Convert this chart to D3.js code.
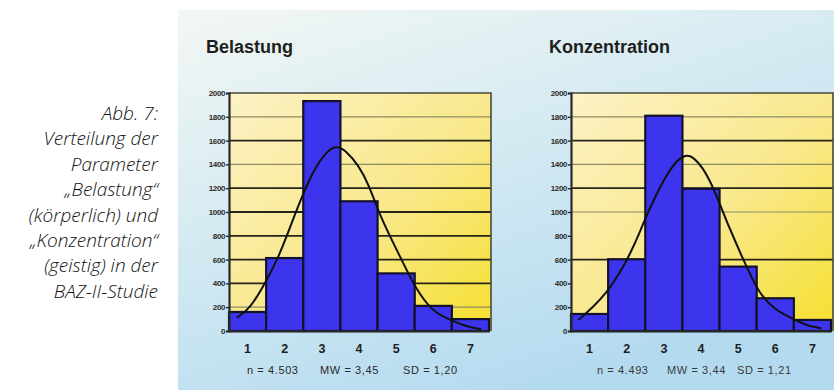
<!DOCTYPE html>
<html>
<head>
<meta charset="utf-8">
<script src="https://cdn.jsdelivr.net/npm/d3@7"></script>
<style>
  html, body { margin: 0; padding: 0; background: #fff; }
  svg { display: block; }
</style>
</head>
<body>
<svg id="chart" width="834" height="390"></svg>
<script>
// Histogram categories (rating scale 1..7)
const categories = ["1", "2", "3", "4", "5", "6", "7"];

// Frequencies per rating
const belastungValues = [160, 613, 1932, 1090, 484, 211, 100];
const konzentrationValues = [143, 603, 1809, 1195, 541, 275, 93];

// Fitted normal curves, sampled along the rating axis
const belastungCurveX = [0.71, 1.06, 1.51, 1.86, 2.13, 2.40, 2.75, 3.11, 3.38, 3.64, 3.99, 4.27, 4.49, 4.80, 5.16, 5.51, 5.96, 6.40, 6.85, 7.29];
const belastungCurveY = [112, 183, 422, 640, 860, 1080, 1340, 1505, 1561, 1519, 1392, 1224, 1030, 816, 591, 365, 169, 99, 42, 14];
const konzentrationCurveX = [0.70, 1.10, 1.45, 1.81, 2.08, 2.34, 2.52, 2.74, 2.97, 3.32, 3.59, 3.77, 4.03, 4.30, 4.57, 4.75, 5.10, 5.55, 5.99, 6.44, 6.80, 7.24];
const konzentrationCurveY = [93, 204, 317, 485, 640, 822, 960, 1110, 1256, 1430, 1481, 1467, 1382, 1228, 1018, 878, 625, 317, 177, 107, 50, 23];

// Value axis
const yTicks = [0, 200, 400, 600, 800, 1000, 1200, 1400, 1600, 1800, 2000];
const yMax = 2000;

// Horizontal rules drawn in each panel
const belastungGridDark = [1600, 1200, 1000, 800, 600, 400];
const belastungGridLight = [1800, 1400, 200];
const konzentrationGridDark = [1600, 1200, 600];
const konzentrationGridLight = [1800, 1400, 1000];

// Titles and summary statistics
const titles = ["Belastung", "Konzentration"];
const belastungStats = ["n = 4.503", "MW = 3,45", "SD = 1,20"];
const konzentrationStats = ["n = 4.493", "MW = 3,44", "SD = 1,21"];

// Figure caption
const captionLines = ["Abb. 7:", "Verteilung der", "Parameter", "\u201EBelastung\u201C", "(körperlich) und", "\u201EKonzentration\u201C", "(geistig) in der", "BAZ-II-Studie"];

const svg = d3.select("#chart");
const defs = svg.append("defs");

// Light blue backdrop gradient
const bg = defs.append("linearGradient").attr("id", "bgGrad")
  .attr("x1", "0").attr("y1", "0").attr("x2", "0.55").attr("y2", "1");
bg.append("stop").attr("offset", "0").attr("stop-color", "#f3f7f4");
bg.append("stop").attr("offset", "0.45").attr("stop-color", "#d6ebf2");
bg.append("stop").attr("offset", "1").attr("stop-color", "#b4daf0");

// Yellow plot area gradient
const pg = defs.append("linearGradient").attr("id", "plotGrad")
  .attr("x1", "0").attr("y1", "0").attr("x2", "1").attr("y2", "1");
pg.append("stop").attr("offset", "0").attr("stop-color", "#fcf2c6");
pg.append("stop").attr("offset", "0.55").attr("stop-color", "#f9e88a");
pg.append("stop").attr("offset", "1").attr("stop-color", "#f5df2e");

svg.append("rect").attr("x", 178).attr("y", 10).attr("width", 656).attr("height", 380)
  .attr("fill", "url(#bgGrad)");

// Caption on the left
const cap = svg.append("text")
  .attr("text-anchor", "end")
  .attr("font-family", "'Open Sans', 'DejaVu Sans', sans-serif")
  .attr("font-style", "italic")
  .attr("font-weight", 300)
  .attr("font-size", 19)
  .attr("fill", "#111");
captionLines.forEach((line, i) => {
  cap.append("tspan").attr("x", 158).attr("y", 120 + i * 25.4).text(line);
});

function drawPanel(opts) {
  const { left, right, title, titleX, values, curveX, curveY, gridDark, gridLight, stats, statsX, statsColor } = opts;
  const top = 93, bottom = 331;
  const g = svg.append("g");

  const x = d3.scaleBand().domain(categories).range([left, right]).padding(0);
  const xc = d3.scaleLinear().domain([0.5, categories.length + 0.5]).range([left, right]);
  const y = d3.scaleLinear().domain([0, yMax]).range([bottom, top]);

  // Title
  g.append("text").attr("x", titleX).attr("y", 53)
    .attr("font-family", "Arial, 'Liberation Sans', sans-serif")
    .attr("font-weight", "bold").attr("font-size", 18).attr("fill", "#1e1e1e")
    .text(title);

  // Plot area
  g.append("rect").attr("x", left).attr("y", top)
    .attr("width", right - left + 2).attr("height", bottom - top)
    .attr("fill", "url(#plotGrad)");

  // Rules
  g.selectAll(".gl").data(gridLight).join("line")
    .attr("x1", left).attr("x2", right + 2)
    .attr("y1", d => y(d)).attr("y2", d => y(d))
    .attr("stroke", "#8d8c62").attr("stroke-width", 1.2);
  g.selectAll(".gd").data(gridDark).join("line")
    .attr("x1", left).attr("x2", right + 2)
    .attr("y1", d => y(d)).attr("y2", d => y(d))
    .attr("stroke", "#262418").attr("stroke-width", 1.8);

  // Bars
  g.selectAll(".bar").data(values).join("rect")
    .attr("x", (d, i) => x(categories[i]))
    .attr("y", d => y(d))
    .attr("width", x.bandwidth())
    .attr("height", d => y(0) - y(d))
    .attr("fill", "#3d35ee")
    .attr("stroke", "#14122a").attr("stroke-width", 2.2);

  // Frame (top and right edges)
  g.append("path")
    .attr("d", `M${left},${top}H${right + 2}V${bottom}`)
    .attr("fill", "none").attr("stroke", "#4a4a3a").attr("stroke-width", 1.6);

  // Normal curve
  const pts = curveX.map((cx, i) => [xc(cx), y(curveY[i])]);
  g.append("path")
    .attr("d", d3.line().curve(d3.curveBasis)(pts))
    .attr("fill", "none").attr("stroke", "#111").attr("stroke-width", 2);

  // Value axis
  const yAxis = d3.axisLeft(y).tickValues(yTicks).tickSize(3).tickPadding(1)
    .tickFormat(d3.format("d"));
  const ya = g.append("g").attr("transform", `translate(${left},0)`).call(yAxis);
  ya.select(".domain").attr("stroke", "#2a2a2a").attr("stroke-width", 2.2);
  ya.selectAll(".tick line").attr("stroke", "#2a2a2a").attr("stroke-width", 1.4);
  ya.selectAll(".tick text")
    .attr("font-family", "Arial, 'Liberation Sans', sans-serif")
    .attr("font-weight", "bold").attr("font-size", 8)
    .attr("letter-spacing", -0.4)
    .attr("fill", "#2b2b2b");

  // Category axis
  const xAxis = d3.axisBottom(x).tickSize(0).tickPadding(13);
  const xa = g.append("g").attr("transform", `translate(0,${bottom})`).call(xAxis);
  xa.select(".domain").attr("stroke", "#2a2a2a").attr("stroke-width", 2);
  xa.selectAll(".tick text")
    .attr("font-family", "Arial, 'Liberation Sans', sans-serif")
    .attr("font-weight", "bold").attr("font-size", 12.5)
    .attr("fill", "#1e1e1e");

  // Summary statistics
  g.selectAll(".stat").data(stats).join("text")
    .attr("x", (d, i) => statsX[i]).attr("y", 374)
    .attr("font-family", "Arial, 'Liberation Sans', sans-serif")
    .attr("font-size", 11).attr("fill", statsColor)
    .attr("letter-spacing", 0.6)
    .text(d => d);
}

drawPanel({
  left: 229, right: 489, title: titles[0], titleX: 206,
  values: belastungValues, curveX: belastungCurveX, curveY: belastungCurveY,
  gridDark: belastungGridDark, gridLight: belastungGridLight,
  stats: belastungStats, statsX: [247, 320, 403], statsColor: "#2a2a2a"
});

drawPanel({
  left: 571, right: 831, title: titles[1], titleX: 549,
  values: konzentrationValues, curveX: konzentrationCurveX, curveY: konzentrationCurveY,
  gridDark: konzentrationGridDark, gridLight: konzentrationGridLight,
  stats: konzentrationStats, statsX: [597, 667, 737], statsColor: "#3a3a3a"
});
</script>
</body>
</html>
